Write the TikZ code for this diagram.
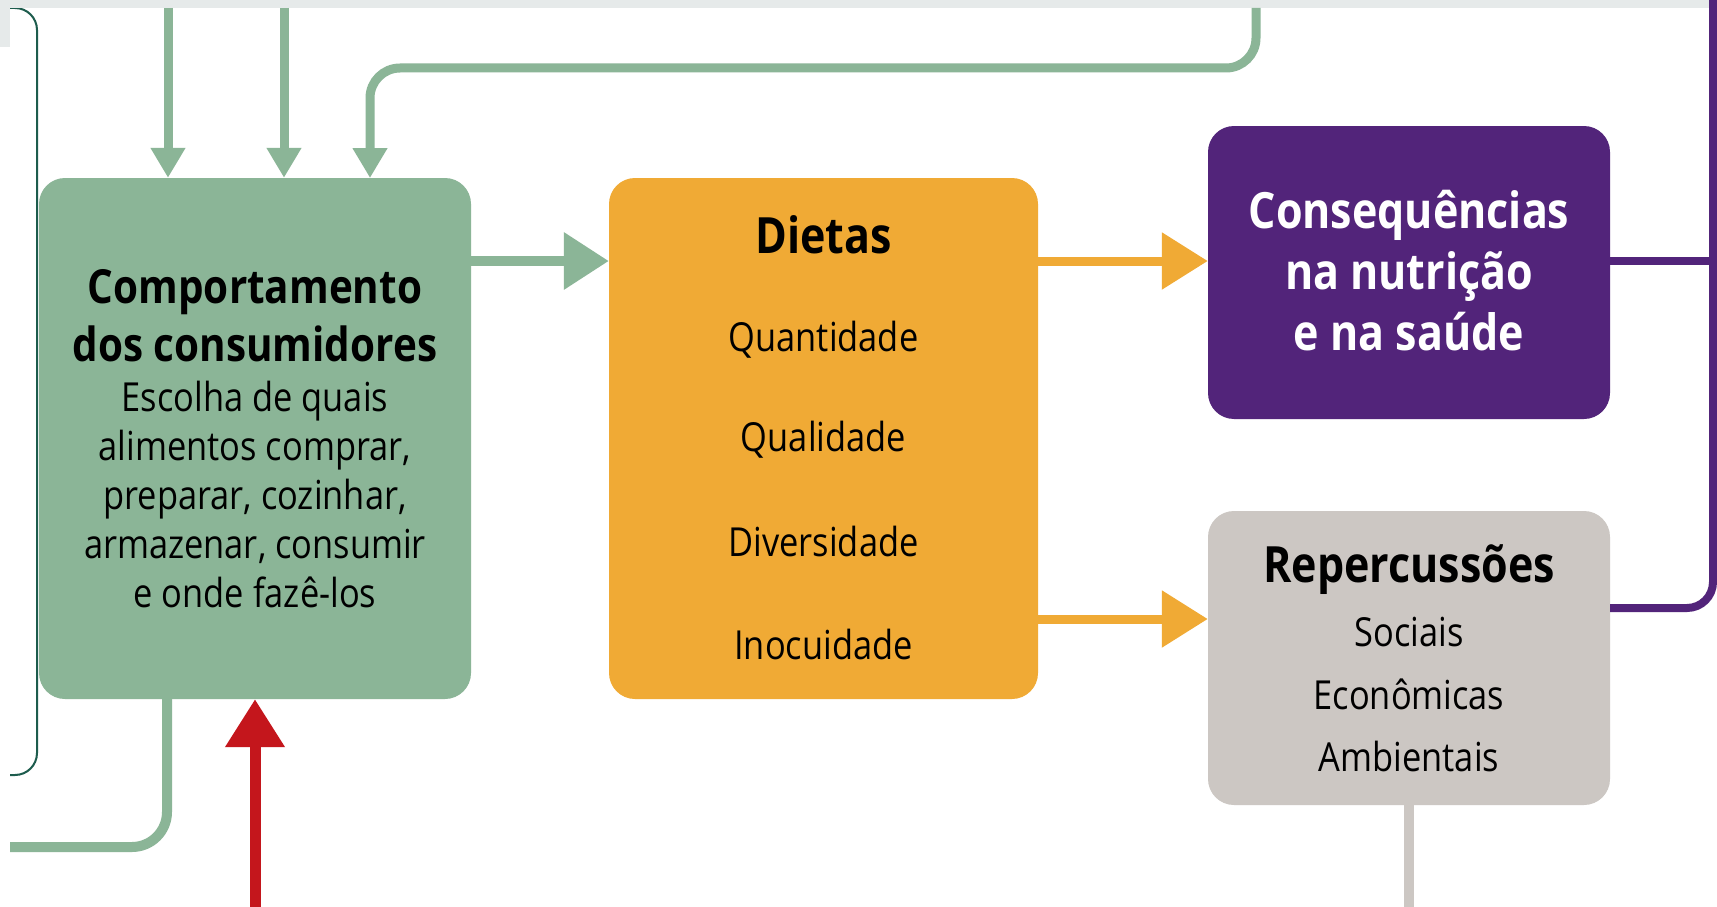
\documentclass[tikz,border=0pt]{standalone}
\usepackage{fontspec}
\setmainfont{Open Sans}[FakeStretch=0.86]
\usetikzlibrary{arrows.meta}
\definecolor{cgreen}{HTML}{8BB597}
\definecolor{corange}{HTML}{F0AA35}
\definecolor{cpurple}{HTML}{52247A}
\definecolor{cgray}{HTML}{CCC7C3}
\definecolor{cred}{HTML}{C4161C}
\definecolor{cteal}{HTML}{1D5C4D}
\definecolor{cband}{HTML}{E6EAEA}
\tikzset{
  box/.style={rounded corners=26pt, inner sep=0pt, draw=none},
  ttl/.style={font=\fontsize{50}{61}\selectfont\bfseries, align=center, inner sep=0pt},
  gttl/.style={font=\fontsize{47}{58}\selectfont\bfseries, align=center, inner sep=0pt},
  itm/.style={font=\fontsize{40}{49}\selectfont, align=center, inner sep=0pt},
  garrow/.style={draw=cgreen, line width=9pt, -{Triangle[width=33pt,length=30pt]}},
  oarrow/.style={draw=corange, line width=9pt, -{Triangle[width=55pt,length=46pt]}},
}
\begin{document}
\begin{tikzpicture}[x=1pt,y=-1pt]
\useasboundingbox (0,0) rectangle (1717,907);
\fill[white] (0,0) rectangle (1717,907);
% thin teal line on the left
\coordinate (tl1) at (0,8);
\coordinate (tl2) at (10,775);
\draw[cteal, line width=2pt, rounded corners=22pt] (tl1) -- (37,8) -- (37,775) -- (tl2);
% top band
\fill[cband] (0,0) rectangle (1717,8);
\fill[cband] (0,0) rectangle (10,47);

% boxes
\node[box, fill=cgreen, minimum width=432pt, minimum height=521pt] (g) at (255,438.5) {};
\node[box, fill=corange, minimum width=429pt, minimum height=521pt] (o) at (823.5,438.5) {};
\node[box, fill=cpurple, minimum width=402pt, minimum height=293pt] (p) at (1409,272.5) {};
\node[box, fill=cgray, minimum width=402pt, minimum height=294pt] (r) at (1409,658) {};

% green box text
\node[gttl] (gt) at (255,316) {Comportamento\\dos consumidores};
\node[itm] (gb) at (255,494) {Escolha de quais\\alimentos comprar,\\preparar, cozinhar,\\armazenar, consumir\\e onde fazê-los};

% orange box text
\node[ttl] (ot) at (823.5,235) {Dietas};
\node[itm] (o1) at (823.5,340) {Quantidade};
\node[itm] (o2) at (823.5,440) {Qualidade};
\node[itm] (o3) at (823.5,541) {Diversidade};
\node[itm] (o4) at (823.5,644) {Inocuidade};

% purple box text
\node[ttl, text=white] (pt) at (1409,271) {Consequências\\na nutrição\\e na saúde};

% gray box text
\node[ttl] (rt) at (1409,570) {Repercussões};
\node[itm] (r1) at (1409,632) {Sociais};
\node[itm] (r2) at (1409,694) {Econômicas};
\node[itm] (r3) at (1409,756) {Ambientais};

% green arrows from top
\coordinate (a1) at (168,8);
\coordinate (a2) at (284,8);
\coordinate (a3) at (1256,8);
\draw[garrow] (a1) -- (a1 |- g.north);
\draw[garrow] (a2) -- (a2 |- g.north);
\draw[garrow, rounded corners=30pt] (a3) -- (1256,68) -- (370,68) -- (370,178);

% green arrow to dietas
\draw[draw=cgreen, line width=10pt, -{Triangle[width=55pt,length=45pt]}] (g.east |- 0,261) -- (o.west |- 0,261);

% green line from bottom of box
\coordinate (gl) at (10,847);
\draw[cgreen, line width=10pt, rounded corners=35pt] (167,699) -- (167,847) -- (gl);

% red arrow
\coordinate (rb) at (255,907);
\draw[draw=cred, line width=11pt, -{Triangle[width=57pt,length=48pt]}] (rb) -- (rb |- g.south);

% orange arrows
\draw[oarrow] (o.east |- 0,261) -- (p.west |- 0,261);
\draw[oarrow] (o.east |- 0,619) -- (r.west |- 0,619);

% purple lines
\coordinate (pv) at (1713,0);
\draw[cpurple, line width=8pt] (p.east |- 0,261) -- (1713,261);
\draw[cpurple, line width=8pt, rounded corners=26pt] (r.east |- 0,608) -- (1713,608) -- (pv);

% gray line down
\coordinate (gd) at (1409,907);
\draw[cgray, line width=10pt] (r.south) -- (gd);
\end{tikzpicture}
\end{document}
